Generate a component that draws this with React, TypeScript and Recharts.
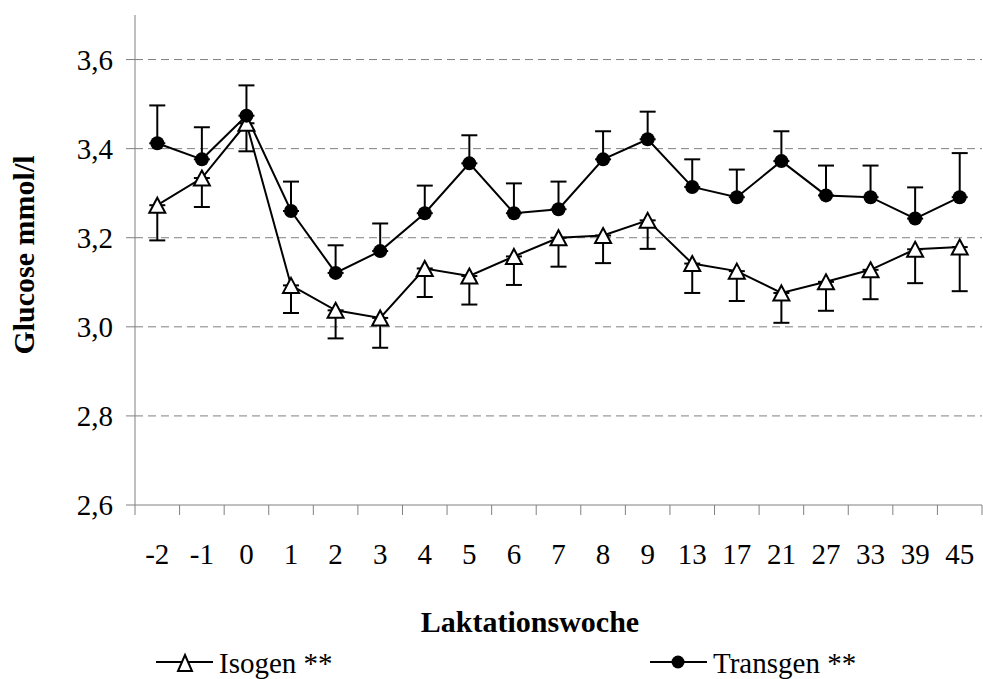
import { LineChart, Line, XAxis, YAxis, CartesianGrid, ErrorBar, Legend, Label } from 'recharts';

const weeks = ['-2', '-1', '0', '1', '2', '3', '4', '5', '6', '7', '8', '9', '13', '17', '21', '27', '33', '39', '45'];
const isogen = [3.273, 3.334, 3.457, 3.093, 3.037, 3.02, 3.131, 3.114, 3.158, 3.2, 3.205, 3.239, 3.142, 3.125, 3.076, 3.101, 3.128, 3.174, 3.179];
const isogenErr = [0.079, 0.065, 0.063, 0.062, 0.063, 0.067, 0.064, 0.064, 0.064, 0.065, 0.062, 0.064, 0.066, 0.067, 0.067, 0.065, 0.066, 0.076, 0.099];
const transgen = [3.412, 3.376, 3.474, 3.26, 3.121, 3.17, 3.255, 3.367, 3.255, 3.264, 3.376, 3.421, 3.314, 3.291, 3.372, 3.295, 3.291, 3.243, 3.291];
const transgenErr = [0.085, 0.072, 0.068, 0.066, 0.062, 0.062, 0.062, 0.063, 0.067, 0.062, 0.063, 0.062, 0.062, 0.062, 0.067, 0.067, 0.071, 0.07, 0.099];
const yTicks = [2.6, 2.8, 3.0, 3.2, 3.4, 3.6];
const gridValues = [2.8, 3.0, 3.2, 3.4, 3.6];

const data = weeks.map((w, i) => ({
  i,
  week: w,
  isogen: isogen[i],
  isogenErr: [isogenErr[i], 0],
  transgen: transgen[i],
  transgenErr: [0, transgenErr[i]],
}));

// labels sit on the week, tick marks sit between weeks
const xTicks = weeks
  .flatMap((_, i) => [i - 0.5, i])
  .concat(weeks.length - 0.5);

const FONT = '"Liberation Serif", "Times New Roman", serif';
const GRAY = '#808080';

function WeekTick({ x, y, payload }: any) {
  const v = payload.value;
  if (Number.isInteger(v)) {
    return (
      <text x={x} y={y + 59} textAnchor="middle" fontSize={29} style={{ fontFamily: FONT }} fill="#000">
        {weeks[v]}
      </text>
    );
  }
  return <line x1={x} x2={x} y1={y} y2={y + 10} stroke={GRAY} strokeWidth={1} />;
}

function TriangleDot(props: any) {
  const { cx, cy, index } = props;
  if (cx == null || cy == null) return <g key={`t-${index}`} />;
  return (
    <path
      key={`t-${index}`}
      d={`M${cx},${cy - 7.5} L${cx + 8},${cy + 7.5} L${cx - 8},${cy + 7.5} Z`}
      fill="#fff"
      stroke="#000"
      strokeWidth={2}
    />
  );
}

function CircleDot(props: any) {
  const { cx, cy, index } = props;
  if (cx == null || cy == null) return <g key={`c-${index}`} />;
  return <circle key={`c-${index}`} cx={cx} cy={cy} r={7} fill="#000" stroke="none" />;
}

function LegendContent() {
  return (
    <svg width={983} height={44} style={{ display: 'block', fontFamily: FONT }}>
      <line x1={156} x2={213} y1={27} y2={27} stroke="#000" strokeWidth={2} />
      <path d="M185,20 L192,36 L178,36 Z" fill="#fff" stroke="#000" strokeWidth={2} />
      <text x={219} y={38} fontSize={29} fill="#000">Isogen **</text>
      <line x1={650} x2={707} y1={27} y2={27} stroke="#000" strokeWidth={2} />
      <circle cx={678} cy={27} r={6.5} fill="#000" />
      <text x={713} y={38} fontSize={29} fill="#000">Transgen **</text>
    </svg>
  );
}

export default function App() {
  return (
    <div style={{ position: 'absolute', left: 0, top: 0, background: '#fff', fontFamily: FONT }}>
      <style>{`
        .iso-line .recharts-errorBar line:nth-of-type(1) { display: none; }
        .trans-line .recharts-errorBar line:nth-of-type(3) { display: none; }
      `}</style>
      <LineChart width={983} height={679} data={data} margin={{ top: 15, right: 1, left: 0, bottom: 0 }}>
        <CartesianGrid vertical={false} horizontalValues={gridValues} stroke={GRAY} strokeDasharray="8 5" />
        <XAxis
          type="number"
          dataKey="i"
          domain={[-0.5, weeks.length - 0.5]}
          ticks={xTicks}
          interval={0}
          height={130}
          stroke={GRAY}
          tickLine={false}
          tickSize={0}
          tickMargin={0}
          tick={<WeekTick />}
        >
          <Label
            content={() => (
              <text x={530} y={632} textAnchor="middle" fontSize={30} fontWeight="bold" style={{ fontFamily: FONT }} fill="#000">
                Laktationswoche
              </text>
            )}
          />
        </XAxis>
        <YAxis
          type="number"
          domain={[2.6, 3.7]}
          ticks={yTicks}
          interval={0}
          width={135}
          stroke={GRAY}
          tickSize={9}
          tickMargin={13}
          tick={{ fill: '#000', fontSize: 29, fontFamily: FONT }}
          tickFormatter={(v: number) => v.toFixed(1).replace('.', ',')}
        >
          <Label
            content={() => (
              <text
                x={34}
                y={255}
                transform="rotate(-90 34 255)"
                textAnchor="middle"
                fontSize={30}
                fontWeight="bold"
                style={{ fontFamily: FONT }}
                fill="#000"
              >
                Glucose mmol/l
              </text>
            )}
          />
        </YAxis>
        <Legend verticalAlign="bottom" content={<LegendContent />} wrapperStyle={{ left: 0, width: 983 }} />
        <Line
          className="iso-line"
          type="linear"
          dataKey="isogen"
          name="Isogen **"
          stroke="#000"
          strokeWidth={2}
          dot={TriangleDot}
          activeDot={false}
          isAnimationActive={false}
        >
          <ErrorBar dataKey="isogenErr" direction="y" width={8} stroke="#000" strokeWidth={2} isAnimationActive={false} />
        </Line>
        <Line
          className="trans-line"
          type="linear"
          dataKey="transgen"
          name="Transgen **"
          stroke="#000"
          strokeWidth={2}
          dot={CircleDot}
          activeDot={false}
          isAnimationActive={false}
        >
          <ErrorBar dataKey="transgenErr" direction="y" width={8} stroke="#000" strokeWidth={2} isAnimationActive={false} />
        </Line>
      </LineChart>
    </div>
  );
}
